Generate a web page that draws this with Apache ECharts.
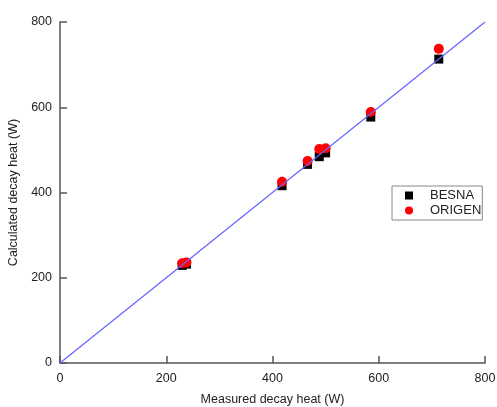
<!DOCTYPE html>
<html>
<head>
<meta charset="utf-8">
<script src="https://cdn.jsdelivr.net/npm/echarts@6/dist/echarts.min.js"></script>
<style>
html,body{margin:0;padding:0;background:#fff;}
#chart{width:497px;height:407px;}
</style>
</head>
<body>
<div id="chart"></div>
<script>
var measured = [230, 238, 418, 466, 488, 500, 585, 713];
var besna    = [229, 232, 416, 466, 484, 493, 577, 713];
var origen   = [234, 236, 425, 474, 502, 504, 589, 737];
var diagonal = [[0, 0], [800, 800]];
var axisTicks = [0, 200, 400, 600, 800];

function pairs(xs, ys) { return xs.map(function (x, i) { return [x, ys[i]]; }); }

var font = 'Liberation Sans, Arial, Helvetica, sans-serif';
var axisCommon = {
  type: 'value', min: axisTicks[0], max: axisTicks[axisTicks.length - 1], interval: 200,
  splitLine: { show: false },
  axisLine: { show: true, lineStyle: { color: '#555', width: 1.5 } },
  axisTick: { show: true, inside: true, length: 7, lineStyle: { color: '#555', width: 1.5 } },
  axisLabel: { color: '#222', fontSize: 12.5, fontFamily: font },
  nameLocation: 'middle',
  nameTextStyle: { color: '#222', fontSize: 12.5, fontFamily: font }
};

var chart = echarts.init(document.getElementById('chart'), null, { renderer: 'canvas' });
chart.setOption({
  animation: false,
  backgroundColor: '#fff',
  grid: { left: 60, right: 12, top: 22, bottom: 44, containLabel: false, outerBoundsMode: 'none' },
  xAxis: Object.assign({}, axisCommon, {
    name: 'Measured decay heat (W)', nameGap: 30,
    axisLabel: Object.assign({}, axisCommon.axisLabel, { margin: 9 })
  }),
  yAxis: Object.assign({}, axisCommon, {
    name: 'Calculated decay heat (W)', nameGap: 32,
    axisLabel: Object.assign({}, axisCommon.axisLabel, { margin: 8 })
  }),
  legend: {
    orient: 'vertical', left: 392, top: 186,
    backgroundColor: '#fff',
    borderColor: '#888', borderWidth: 1, borderRadius: 0,
    padding: [3, 1, 3, 13],
    itemGap: 2, itemWidth: 8, itemHeight: 8,
    textStyle: { color: '#222', fontSize: 13, fontFamily: font, padding: [0, 0, 0, 12] },
    data: [{ name: 'BESNA', icon: 'rect' }, { name: 'ORIGEN', icon: 'circle' }]
  },
  series: [
    {
      type: 'line', data: diagonal, showSymbol: false, symbol: 'none',
      lineStyle: { color: '#6464ff', width: 1.2 }, silent: true, z: 3
    },
    {
      name: 'BESNA', type: 'scatter', symbol: 'rect', symbolSize: 9,
      itemStyle: { color: '#000', opacity: 1 }, data: pairs(measured, besna), z: 1
    },
    {
      name: 'ORIGEN', type: 'scatter', symbol: 'circle', symbolSize: 10,
      itemStyle: { color: '#ff0000', opacity: 1 }, data: pairs(measured, origen), z: 2
    }
  ]
});
</script>
</body>
</html>
